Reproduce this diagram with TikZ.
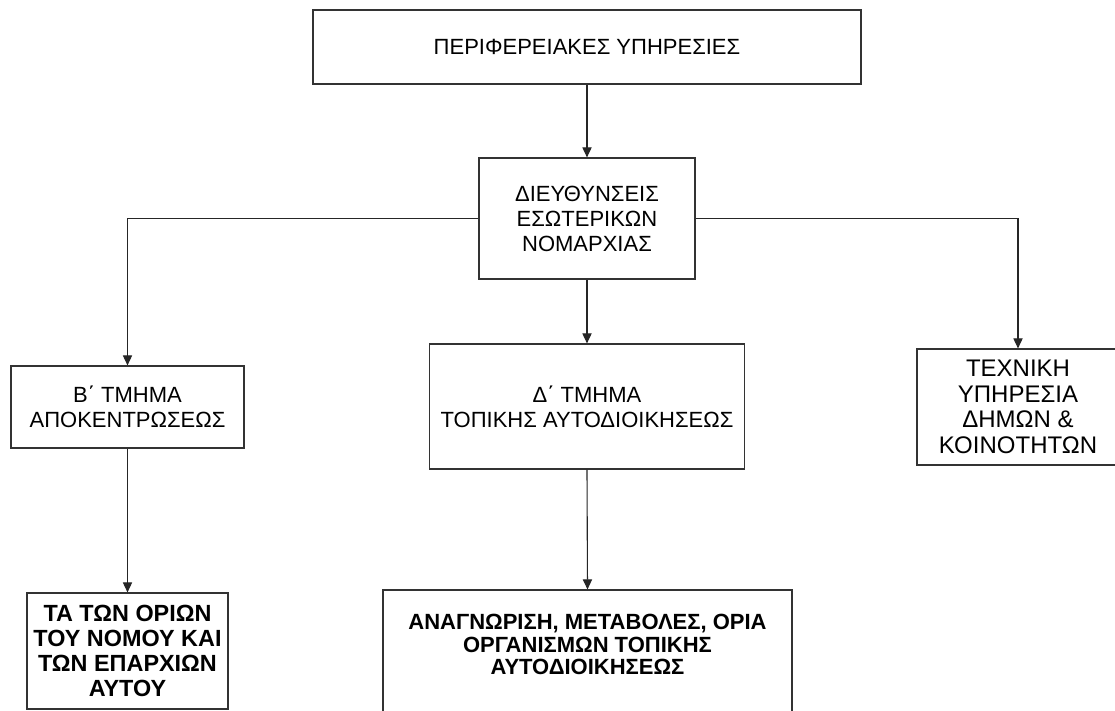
\documentclass[tikz,border=0pt]{standalone}
\usepackage{fontspec}
\setmainfont{Liberation Sans}
\usetikzlibrary{arrows.meta}
\tikzset{
  box/.style={draw=black!80, line width=0.6pt, fill=white, rectangle, align=center, inner sep=0pt,
    font=\fontsize{11}{12.5}\selectfont},
  boldbox/.style={box, font=\fontsize{11.7}{12.5}\selectfont\bfseries},
  conn/.style={draw=black!85, line width=0.55pt},
  arr/.style={conn, -{Triangle[length=5pt,width=4.6pt]}}
}
\begin{document}
\begin{tikzpicture}[x=0.5pt,y=-0.5pt]
\useasboundingbox (0,0) rectangle (1115,711);
\fill[white] (0,0) rectangle (1115,711);

\node[box, minimum width=274pt, minimum height=37pt] (top) at (587,47) {ΠΕΡΙΦΕΡΕΙΑΚΕΣ ΥΠΗΡΕΣΙΕΣ};
\node[box, minimum width=108pt, minimum height=60.5pt] (dir) at (587,218.5) {ΔΙΕΥΘΥΝΣΕΙΣ\\ΕΣΩΤΕΡΙΚΩΝ\\ΝΟΜΑΡΧΙΑΣ};
\node[box, minimum width=116.5pt, minimum height=41pt] (beta) at (127.5,407) {Β΄ ΤΜΗΜΑ\\ΑΠΟΚΕΝΤΡΩΣΕΩΣ};
\node[box, minimum width=157.5pt, minimum height=62.5pt] (delta) at (587,406.5) {Δ΄ ΤΜΗΜΑ\\ΤΟΠΙΚΗΣ ΑΥΤΟΔΙΟΙΚΗΣΕΩΣ};
\node[box, minimum width=101pt, minimum height=58pt, font=\fontsize{12}{12.8}\selectfont] (tech) at (1018,407) {ΤΕΧΝΙΚΗ\\ΥΠΗΡΕΣΙΑ\\ΔΗΜΩΝ \&\\ΚΟΙΝΟΤΗΤΩΝ};
\node[boldbox, minimum width=100.5pt, minimum height=58pt] (orio) at (127.5,651) {ΤΑ ΤΩΝ ΟΡΙΩΝ\\ΤΟΥ ΝΟΜΟΥ ΚΑΙ\\ΤΩΝ ΕΠΑΡΧΙΩΝ\\ΑΥΤΟΥ};
\node[box, minimum width=204.5pt, minimum height=70pt,
  label={[anchor=north, yshift=-12.3pt, align=center, inner sep=0pt,
          font=\fontsize{11}{11.3}\selectfont\bfseries]north:ΑΝΑΓΝΩΡΙΣΗ, ΜΕΤΑΒΟΛΕΣ, ΟΡΙΑ\\ΟΡΓΑΝΙΣΜΩΝ ΤΟΠΙΚΗΣ\\ΑΥΤΟΔΙΟΙΚΗΣΕΩΣ}] (org) at (587.5,660) {};

\draw[arr] (top.south) -- (dir.north);
\draw[arr] (dir.west) -| (beta.north);
\draw[arr] (dir.east) -| (tech.north);
\draw[arr] (dir.south) -- (delta.north);
\draw[arr] (beta.south) -- (orio.north);
\draw[arr] (delta.south) -- (org.north);
\end{tikzpicture}
\end{document}
